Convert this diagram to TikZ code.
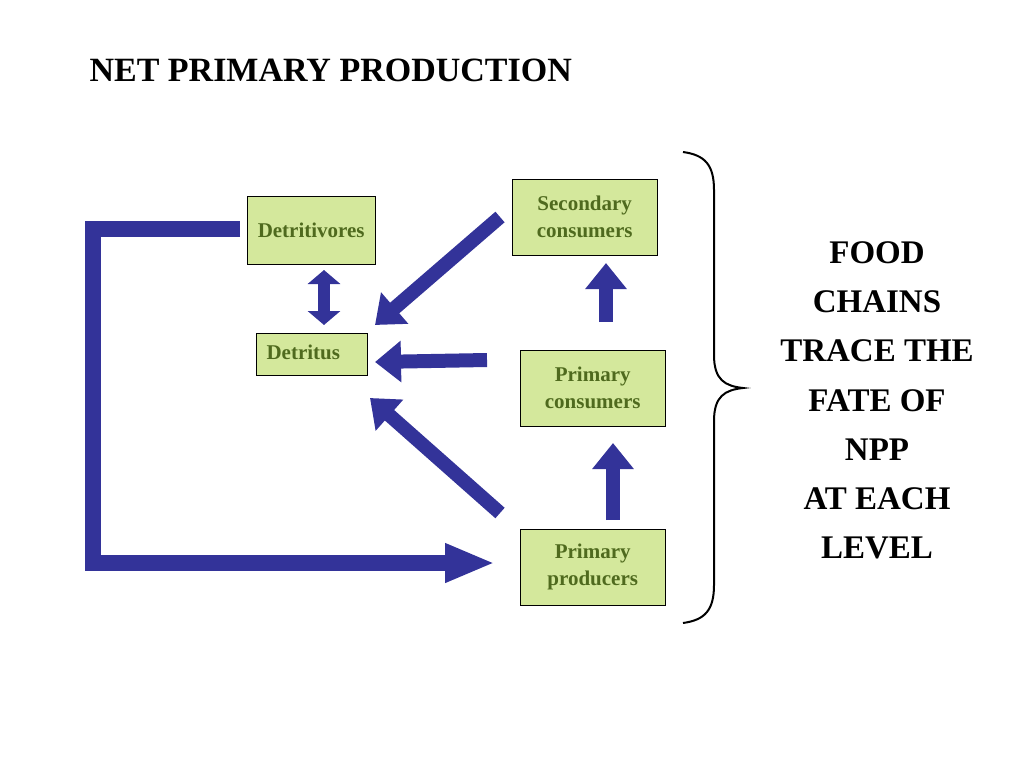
\documentclass[tikz,border=0pt]{standalone}
\usepackage{fontspec}
\setmainfont{Liberation Serif}
\usetikzlibrary{arrows.meta}
\definecolor{bx}{HTML}{D4E89C}
\definecolor{tx}{HTML}{4F6A1E}
\definecolor{ar}{HTML}{333399}
\begin{document}
\begin{tikzpicture}[x=1pt,y=-1pt,
  box/.style={draw=black,fill=bx,text=tx,font=\bfseries\fontsize{21}{27}\selectfont,align=center,inner sep=0pt,anchor=north west},
  fat/.style={draw=ar,line width=14pt,-{Triangle[length=26pt,width=40pt]}},
  big/.style={font=\bfseries\fontsize{33}{36}\selectfont}]
\useasboundingbox (0,0) rectangle (1024,768);
\node[anchor=west,font=\bfseries\fontsize{34}{36}\selectfont] (title) at (86,70) {NET PRIMARY PRODUCTION};
\node[box,minimum width=128,minimum height=68] (dv) at (247,196) {Detritivores};
\node[box,minimum width=145,minimum height=76] (sc) at (512,179) {Secondary\\consumers};
\node[box,minimum width=111,minimum height=42] (dt) at (256,333) {};
\node[text=tx,font=\bfseries\fontsize{21}{27}\selectfont,anchor=west] (dtt) at (263,352) {Detritus};
\node[box,minimum width=145,minimum height=76] (pc) at (520,350) {Primary\\consumers};
\node[box,minimum width=145,minimum height=76] (pp) at (520,529) {Primary\\producers};
\coordinate (l1) at (93,229); \coordinate (l2) at (93,563);
\draw[draw=ar,line width=16pt,-{Triangle[length=50pt,width=36pt]}] (240,229) -- (l1) -- (l2) -- (495,563);
\draw[draw=ar,line width=12pt,{Triangle[length=14pt,width=32pt]}-{Triangle[length=14pt,width=32pt]}] (324,270) -- (324,325);
\draw[fat] (500,217) -- (375,325);
\draw[fat] (487,360) -- (375,362);
\draw[fat] (500,513) -- (370,398);
\draw[fat] (613,520) -- (613,443);
\draw[fat] (606,322) -- (606,263);
\draw[line width=2pt] (683,152) .. controls (705,155) and (714,165) .. (714,190)
  -- (714,355) .. controls (714,380) and (725,386) .. (743,388)
  .. controls (725,390) and (714,396) .. (714,421)
  -- (714,585) .. controls (714,610) and (705,620) .. (683,623);
\foreach \t/\y [count=\i] in {FOOD/253,CHAINS/302,TRACE THE/351,FATE OF/401,NPP/450,AT EACH/499,LEVEL/548}
  \node[big] (r\i) at (877,\y) {\t};
\end{tikzpicture}
\end{document}
